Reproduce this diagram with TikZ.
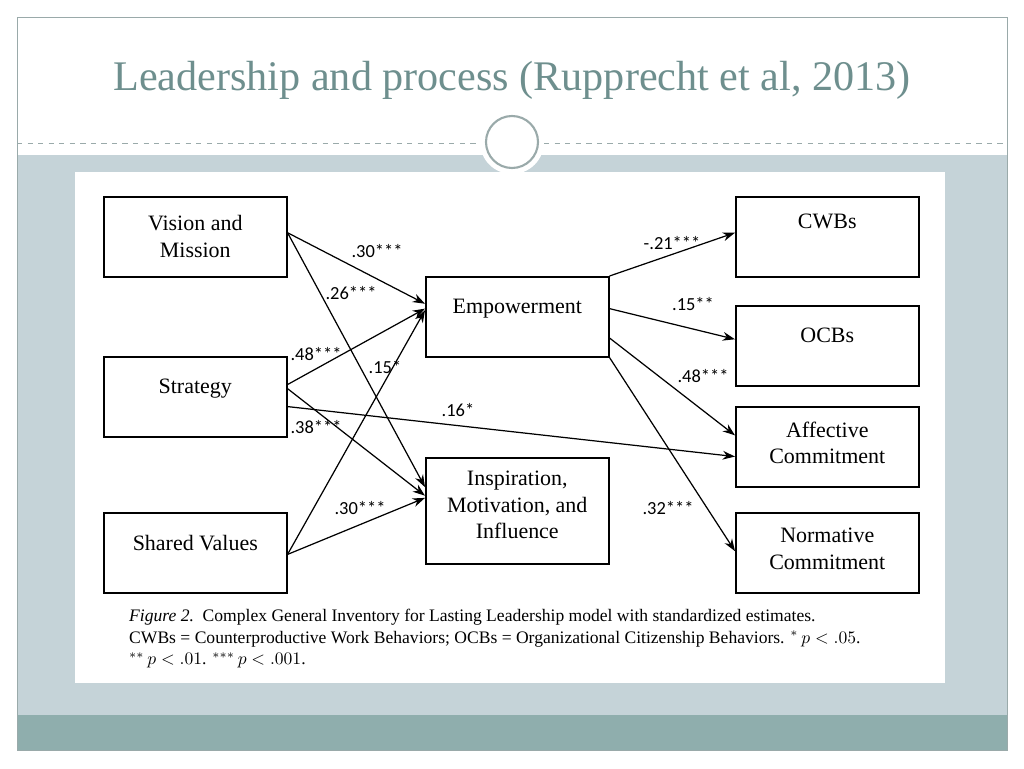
\documentclass[tikz,border=0pt]{standalone}
\usepackage{fontspec}
\setmainfont{Liberation Serif}
\newfontfamily\labfont{Carlito}
\usetikzlibrary{arrows.meta, positioning, calc}
\definecolor{titlegray}{HTML}{6E8F8E}
\definecolor{bandblue}{HTML}{C5D3D8}
\definecolor{bandteal}{HTML}{8FAEAD}
\definecolor{framegray}{HTML}{9AAAAA}

\tikzset{
  varbox/.style={draw, line width=0.9pt, minimum width=3.66cm, minimum height=1.6cm,
    anchor=north west},
  boxtxt/.style={font=\fontsize{12.5}{15}\selectfont, align=center, inner sep=0pt},
  path/.style={-{Stealth[length=7pt,width=5pt]}, line width=0.7pt},
  est/.style={font=\labfont\fontsize{10.5}{11}\selectfont}
}

\begin{document}
\begin{tikzpicture}[x=0.02cm, y=-0.02cm]
\useasboundingbox (0,0) rectangle (1024,768);
% slide background
\fill[white] (0,0) rectangle (1024,768);
\fill[bandblue] (17,155) rectangle (1007,715);
\fill[bandteal] (17,715) rectangle (1007,750);
\draw[framegray, line width=0.5pt] (17,17) rectangle (1007,750);
\draw[framegray, dashed, line width=0.5pt] (17,143) -- (1007,143);
\fill[white] (512,142) circle (32);
\draw[framegray, line width=1.2pt] (512,142) circle (26);
\node[font=\fontsize{24}{24}\selectfont, text=titlegray] (title) at (512,80) {Leadership and process (Rupprecht et al, 2013)};
% figure panel
\fill[white] (75,172) rectangle (945,683);

% variables
\node[varbox] (vision) at (103,196) {};
\node[varbox] (strat) at (103,356) {};
\node[varbox] (shared) at (103,512) {};
\node[varbox] (emp) at (425,276) {};
\node[varbox, minimum height=2.12cm] (insp) at (425,457) {};
\node[varbox] (cwb) at (735,196) {};
\node[varbox] (ocb) at (735,305) {};
\node[varbox] (aff) at (735,406) {};
\node[varbox] (norm) at (735,512) {};
\node[boxtxt, below=11pt of vision.north] (tvision) {Vision and\\Mission};
\node[boxtxt, below=13pt of strat.north] (tstrat) {Strategy};
\node[boxtxt, below=13pt of shared.north] (tshared) {Shared Values};
\node[boxtxt, below=13pt of emp.north] (temp) {Empowerment};
\node[boxtxt, below=8pt of insp.north] (tinsp) {Inspiration,\\Motivation, and\\Influence};
\node[boxtxt, below=10pt of cwb.north] (tcwb) {CWBs};
\node[boxtxt, below=13pt of ocb.north] (tocb) {OCBs};
\node[boxtxt, below=9pt of aff.north] (taff) {Affective\\Commitment};
\node[boxtxt, below=9pt of norm.north] (tnorm) {Normative\\Commitment};

% paths
\draw[path] ($(vision.north east)!0.45!(vision.south east)$) -- ($(emp.north west)!0.34!(emp.south west)$);
\draw[path] ($(vision.north east)!0.45!(vision.south east)$) -- ($(insp.north west)!0.28!(insp.south west)$);
\draw[path] ($(strat.north east)!0.35!(strat.south east)$) -- ($(emp.north west)!0.40!(emp.south west)$);
\draw[path] ($(strat.north east)!0.40!(strat.south east)$) -- ($(insp.north west)!0.36!(insp.south west)$);
\draw[path] ($(strat.north east)!0.62!(strat.south east)$) -- ($(aff.north west)!0.62!(aff.south west)$);
\draw[path] ($(shared.north east)!0.52!(shared.south east)$) -- ($(emp.north west)!0.42!(emp.south west)$);
\draw[path] ($(shared.north east)!0.52!(shared.south east)$) -- ($(insp.north west)!0.38!(insp.south west)$);
\draw[path] (emp.north east) -- ($(cwb.north west)!0.45!(cwb.south west)$);
\draw[path] ($(emp.north east)!0.40!(emp.south east)$) -- ($(ocb.north west)!0.42!(ocb.south west)$);
\draw[path] ($(emp.north east)!0.76!(emp.south east)$) -- ($(aff.north west)!0.36!(aff.south west)$);
\draw[path] (emp.south east) -- ($(norm.north west)!0.48!(norm.south west)$);

% estimates
\node[est] (e1) at (377,251) {.30***};
\node[est] (e2) at (351,293) {.26***};
\node[est] (e3) at (316,354) {.48***};
\node[est] (e4) at (385,367) {.15*};
\node[est] (e5) at (316,427) {.38***};
\node[est] (e6) at (458,410) {.16*};
\node[est] (e7) at (360,508) {.30***};
\node[est] (e8) at (672,243) {-.21***};
\node[est] (e9) at (693,304) {.15**};
\node[est] (e10) at (703,376) {.48***};
\node[est] (e11) at (668,508) {.32***};

% caption
\node[anchor=north west, align=left, font=\fontsize{10}{12.3}\selectfont] (cap) at (123,603)
  {\textit{Figure 2.}\ \ Complex General Inventory for Lasting Leadership model with standardized estimates.\\
   CWBs = Counterproductive Work Behaviors; OCBs = Organizational Citizenship Behaviors. $^{*}\,p<.05$.\\
   $^{**}\,p<.01$. $^{***}\,p<.001$.};
\end{tikzpicture}
\end{document}
